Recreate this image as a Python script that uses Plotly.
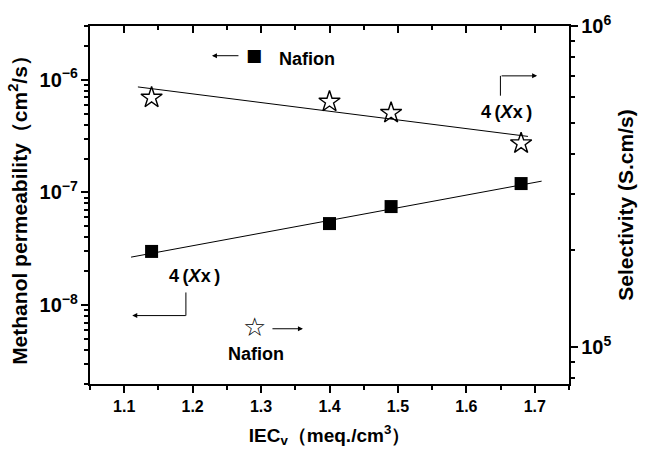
import plotly.graph_objects as go

# ---- data ----
iec = [1.14, 1.40, 1.49, 1.68]
permeability = [3.0e-8, 5.3e-8, 7.5e-8, 1.2e-7]      # cm2/s (left axis)
selectivity = [5.98e5, 5.81e5, 5.36e5, 4.31e5]       # S.cm/s (right axis)

fit_perm_x = [1.11, 1.71]
fit_perm_y = [2.67e-8, 1.26e-7]
fit_sel_x = [1.12, 1.69]
fit_sel_y = [6.46e5, 4.53e5]

x_ticks = [1.1, 1.2, 1.3, 1.4, 1.5, 1.6, 1.7]

FONT = "Liberation Sans, Arial, sans-serif"

fig = go.Figure()

fig.add_trace(go.Scatter(x=fit_perm_x, y=fit_perm_y, mode="lines",
                         line=dict(color="black", width=1), yaxis="y", showlegend=False))
fig.add_trace(go.Scatter(x=iec, y=permeability, mode="markers",
                         marker=dict(symbol="square", size=13, color="black"),
                         yaxis="y", showlegend=False))
fig.add_trace(go.Scatter(x=fit_sel_x, y=fit_sel_y, mode="lines",
                         line=dict(color="black", width=1), yaxis="y2", showlegend=False))
fig.add_trace(go.Scatter(x=iec, y=selectivity, mode="markers",
                         marker=dict(symbol="star-open", size=16, color="black",
                                     line=dict(width=1.4, color="black")),
                         yaxis="y2", showlegend=False))
# invisible trace to activate the top axis
fig.add_trace(go.Scatter(x=[1.1], y=[1e-7], xaxis="x2", yaxis="y", mode="markers",
                         marker=dict(opacity=0), hoverinfo="skip", showlegend=False))

tickfont = dict(family=FONT, size=16, color="black", weight="bold")
ytitlefont = dict(family=FONT, size=21, color="black", weight="bold")
xtitlefont = dict(family=FONT, size=19, color="black", weight="bold")

fig.update_layout(
    width=646, height=459,
    margin=dict(l=90, r=65, t=23, b=75),
    paper_bgcolor="white", plot_bgcolor="white",
    xaxis=dict(range=[1.05, 1.75], tickvals=x_ticks, ticktext=[f"{v:.1f}" for v in x_ticks],
               ticks="outside", ticklen=7, tickwidth=2, tickcolor="black",
               showline=True, linewidth=2, linecolor="black", showgrid=False, zeroline=False,
               tickfont=tickfont,
               minor=dict(dtick=0.05, tick0=1.05, ticks="outside", ticklen=4, tickwidth=2, tickcolor="black"),
               title=dict(text="IEC<sub>v</sub>（meq./cm<sup>3</sup>）", font=xtitlefont, standoff=14)),
    xaxis2=dict(range=[1.05, 1.75], overlaying="x", side="top", tickvals=x_ticks,
                showticklabels=False, ticks="inside", ticklen=7, tickwidth=2, tickcolor="black",
                showline=True, linewidth=2, linecolor="black", showgrid=False, zeroline=False,
                minor=dict(dtick=0.05, tick0=1.05, ticks="inside", ticklen=4, tickwidth=2, tickcolor="black")),
    yaxis=dict(type="log", range=[-8.699, -5.523], dtick=1, exponentformat="power",
               ticks="outside", ticklen=7, tickwidth=2, tickcolor="black",
               showline=True, linewidth=2, linecolor="black", showgrid=False, zeroline=False,
               tickfont=tickfont,
               minor=dict(dtick="D1", ticks="outside", ticklen=4, tickwidth=2, tickcolor="black"),
               title=dict(text="Methanol permeability（cm<sup>2</sup>/s）", font=ytitlefont, standoff=6)),
    yaxis2=dict(type="log", range=[4.885, 6.0], dtick=1, exponentformat="power",
                overlaying="y", side="right",
                ticks="outside", ticklen=7, tickwidth=2, tickcolor="black",
                showline=True, linewidth=2, linecolor="black", showgrid=False, zeroline=False,
                tickfont=tickfont,
                minor=dict(dtick="D1", ticks="outside", ticklen=4, tickwidth=2, tickcolor="black"),
                title=dict(text="Selectivity (S.cm/s)", font=ytitlefont, standoff=8)),
)

ann_font = dict(family=FONT, size=18, color="black", weight="bold")
xx_text = "4\u2009(<i>X</i>x\u2009)"


def txt(x, y, text, font):
    return dict(x=x, y=y, xref="paper", yref="paper", text=text, showarrow=False,
                xanchor="center", yanchor="middle", font=font)


def arrow(x, y, ax):
    return dict(x=x, y=y, xref="paper", yref="paper", text="", showarrow=True,
                ax=ax, ay=0, axref="pixel", ayref="pixel", arrowhead=2, arrowsize=1,
                arrowwidth=1, arrowcolor="black")


annotations = [
    # top: <- ■ Nafion
    arrow(0.2546, 0.917, 28),
    txt(0.342, 0.919, "■", dict(family="DejaVu Sans", size=17, color="black")),
    txt(0.452, 0.909, "Nafion", ann_font),
    # top right: 4(Xx) ->
    txt(0.870, 0.759, xx_text, ann_font),
    arrow(0.9334, 0.8607, -37),
    # bottom left: 4(Xx) <-
    txt(0.218, 0.302, xx_text, ann_font),
    arrow(0.0882, 0.1911, 55),
    # bottom: ☆ -> Nafion
    txt(0.3428, 0.1587, "☆", dict(family="DejaVu Sans", size=26, color="black")),
    arrow(0.4446, 0.1543, -32),
    txt(0.346, 0.083, "Nafion", ann_font),
]
fig.update_layout(annotations=annotations)

fig.update_layout(shapes=[
    dict(type="line", xref="paper", yref="paper", x0=0.8568, x1=0.8568, y0=0.8053, y1=0.8607,
         line=dict(color="black", width=1)),
    dict(type="line", xref="paper", yref="paper", x0=0.2002, x1=0.2002, y0=0.2557, y1=0.1911,
         line=dict(color="black", width=1)),
])

fig.write_html("out.html")
